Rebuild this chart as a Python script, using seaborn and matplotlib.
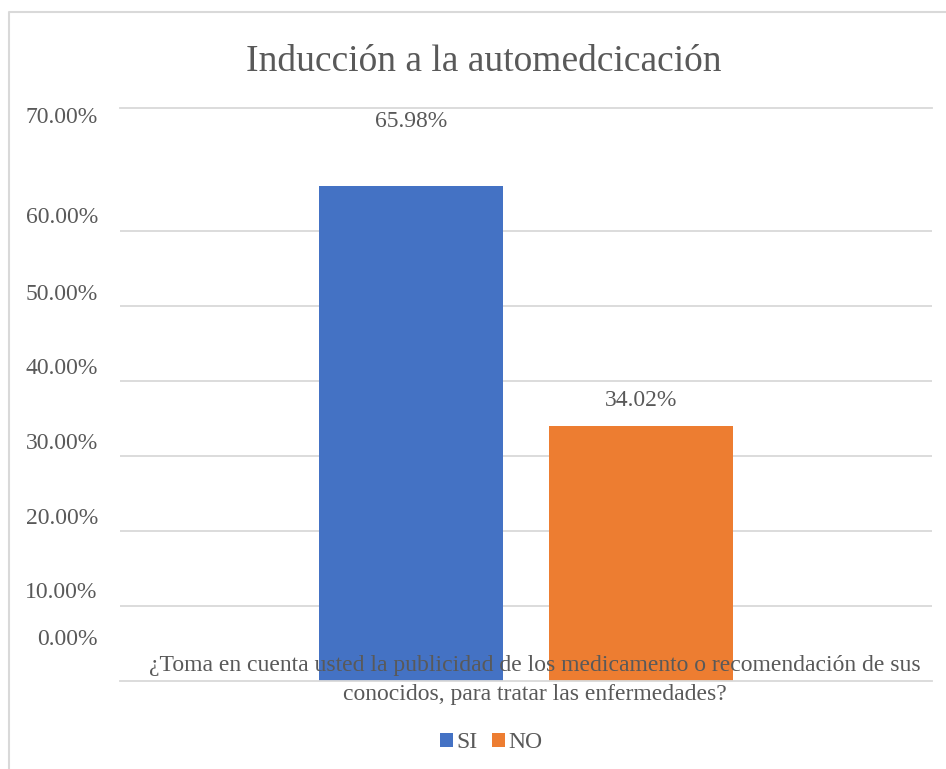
import matplotlib
matplotlib.use("Agg")
import matplotlib.pyplot as plt
import seaborn as sns
import pandas as pd
from matplotlib.lines import Line2D
from matplotlib.transforms import blended_transform_factory

# ---- data ----
categories = ["¿Toma en cuenta usted la publicidad de los medicamento o recomendación de sus\nconocidos, para tratar las enfermedades?"]
responses = ["SI", "NO"]
values = [65.98, 34.02]
grid_values = [10, 20, 30, 40, 50, 60]
tick_label_texts = ["0.00%", "10.00%", "20.00%", "30.00%", "40.00%", "50.00%", "60.00%", "70.00%"]
tick_label_positions = [5.9, 12.1, 22.0, 32.0, 42.0, 51.9, 62.1, 75.5]
title = "Inducción a la automedcicación"
colors = ["#4472C4", "#ED7D31"]

df = pd.DataFrame({"pregunta": categories * len(responses),
                   "respuesta": responses,
                   "valor": values})

sns.set_theme(style="white")
plt.rcParams['font.family'] = ['Liberation Serif', 'DejaVu Serif']
TXT = '#595959'
GRID = '#D9D9D9'

W, H = 946, 769
fig = plt.figure(figsize=(W / 100, H / 100), dpi=100)
ax = fig.add_axes([120 / W, 1 - 681 / H, (932 - 120) / W, (681 - 108) / H])

sns.barplot(data=df, x="pregunta", y="valor", hue="respuesta", palette=colors,
            width=0.567, gap=0.2, saturation=1, linewidth=0, ax=ax, legend=True)

ax.set_xlim(-0.5, 0.5)
ax.set_ylim(0, 76.4)
ax.set_xlabel('')
ax.set_ylabel('')

# gridlines
ax.set_yticks(grid_values)
ax.set_yticklabels([])
ax.yaxis.grid(True, which='major', color=GRID, lw=1.3)
ax.tick_params(axis='y', which='major', length=0)
ax.set_axisbelow(True)
# tick labels
ax.set_yticks(tick_label_positions, minor=True)
ax.set_yticklabels(tick_label_texts, minor=True)
ax.tick_params(axis='y', which='minor', length=0, pad=16, labelsize=17, labelcolor=TXT)

# x category label drawn on top of the bars, across the axis line
ax.set_xticks([0])
ax.set_xticklabels([''])
ax.tick_params(axis='x', length=0)
trans = blended_transform_factory(ax.transData, fig.transFigure)
for i, cat in enumerate(categories):
    ax.text(i + 0.011, 1 - 680 / H, cat, transform=trans, ha='center', va='center',
            multialignment='center', fontsize=17, color=TXT, linespacing=1.5, zorder=10)

for s in ['left', 'right']:
    ax.spines[s].set_visible(False)
for s in ['top', 'bottom']:
    ax.spines[s].set_color(GRID)
    ax.spines[s].set_linewidth(1.3)

# data labels
for c, pad in zip(ax.containers, [39, 11]):
    ax.bar_label(c, labels=[f"{v:.2f}%" for v in c.datavalues], padding=pad,
                 fontsize=17, color=TXT)

# title
fig.text(484 / W, 1 - 62 / H, title, ha='center', va='center', fontsize=27, color=TXT)

# legend
handles, labels = ax.get_legend_handles_labels()
if ax.legend_ is not None:
    ax.legend_.remove()
fig.legend(handles, labels, loc='center', bbox_to_anchor=(491 / W, 1 - 743 / H), ncol=2,
           frameon=False, fontsize=17, labelcolor=TXT, handlelength=0.55, handleheight=0.55,
           handletextpad=0.15, columnspacing=0.6)

# chart border
fig.add_artist(Line2D([9 / W, 9 / W, 1], [0, 1 - 12 / H, 1 - 12 / H],
                      transform=fig.transFigure, color=GRID, lw=1.5))

fig.savefig('out.png', dpi=100)
